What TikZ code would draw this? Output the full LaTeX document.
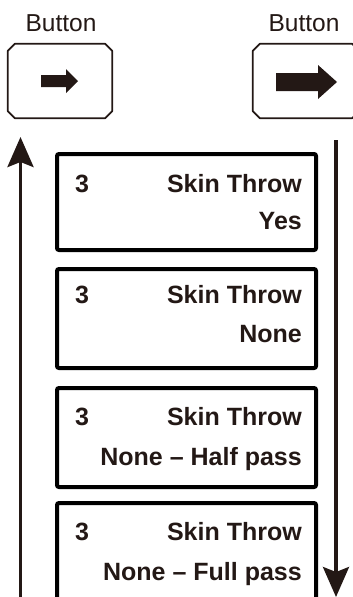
\documentclass[tikz,border=0pt]{standalone}
\usepackage{fontspec}
\setmainfont{Liberation Sans}
\usetikzlibrary{arrows.meta}
\definecolor{ink}{HTML}{231815}
\begin{document}
\begin{tikzpicture}[x=1pt,y=1pt,
  btnlabel/.style={font=\fontsize{24.5}{28}\selectfont, text=ink, inner sep=0pt, anchor=base},
  btnarea/.style={draw=none, inner sep=0pt, minimum width=#1, minimum height=74pt},
  btnframe/.style={draw=ink, line width=1.8pt, line join=round},
  btnicon/.style={fill=ink, draw=none},
  itembox/.style={draw=black, line width=4pt, rounded corners=2pt, inner sep=0pt,
    minimum width=259pt, minimum height=#1, anchor=north west},
  itemtext/.style={font=\bfseries\fontsize{25}{28}\selectfont, text=ink, inner sep=0pt},
  flow/.style={draw=ink, line width=3.5pt, -{Stealth[length=30pt,width=26pt,inset=5pt]}}
]
\useasboundingbox (0,0) rectangle (353,-597);
\clip (0,0) rectangle (353,-597);

% Button labels
\node[btnlabel] (lbl1) at (61,-31) {Button};
\node[btnlabel] (lbl2) at (304,-31) {Button};

% Left button
\node[btnarea=104pt] (lbtn) at (60,-81) {};
\draw[btnframe] ([xshift=7pt]lbtn.north west) -- ([xshift=-7pt]lbtn.north east)
  -- ([yshift=-7pt]lbtn.north east) -- ([yshift=7pt]lbtn.south east)
  -- ([xshift=-7pt]lbtn.south east) -- ([xshift=7pt]lbtn.south west)
  -- ([yshift=7pt]lbtn.south west) -- ([yshift=-7pt]lbtn.north west) -- cycle;
\fill[btnicon] (41,-75) -- (66,-75) -- (66,-69) -- (78,-81) -- (66,-93) -- (66,-87) -- (41,-87) -- cycle;

% Right button (cut by the right edge)
\node[btnarea=106pt] (rbtn) at (306,-81) {};
\draw[btnframe] ([xshift=7pt]rbtn.north west) -- ([xshift=-7pt]rbtn.north east)
  -- ([yshift=-7pt]rbtn.north east) -- ([yshift=7pt]rbtn.south east)
  -- ([xshift=-7pt]rbtn.south east) -- ([xshift=7pt]rbtn.south west)
  -- ([yshift=7pt]rbtn.south west) -- ([yshift=-7pt]rbtn.north west) -- cycle;
\fill[btnicon] (276,-73) -- (318,-73) -- (318,-65) -- (337,-82) -- (318,-99) -- (318,-91) -- (276,-91) -- cycle;

% Item boxes
\node[itembox=96pt]  (b1) at (55,-152) {};
\node[itembox=99pt]  (b2) at (55,-267) {};
\node[itembox=99pt]  (b3) at (55,-386) {};
\node[itembox=110pt] (b4) at (55,-501) {};

\node[itemtext, anchor=base west] (b1n) at (75,-192) {3};
\node[itemtext, anchor=base east] (b1a) at (302,-192) {Skin Throw};
\node[itemtext, anchor=base east] (b1b) at (302,-229) {Yes};

\node[itemtext, anchor=base west] (b2n) at (75,-303) {3};
\node[itemtext, anchor=base east] (b2a) at (302,-303) {Skin Throw};
\node[itemtext, anchor=base east] (b2b) at (302,-342) {None};

\node[itemtext, anchor=base west] (b3n) at (75,-425) {3};
\node[itemtext, anchor=base east] (b3a) at (302,-425) {Skin Throw};
\node[itemtext, anchor=base east] (b3b) at (302,-465) {None – Half pass};

\node[itemtext, anchor=base west] (b4n) at (75,-540) {3};
\node[itemtext, anchor=base east] (b4a) at (302,-540) {Skin Throw};
\node[itemtext, anchor=base east] (b4b) at (302,-580) {None – Full pass};

% Vertical flow arrows
\coordinate (lbot) at (20.5,-605);
\coordinate (ltop) at (20.5,-137);
\coordinate (rtop) at (336,-140);
\coordinate (rbot) at (336,-597);
\draw[flow] (lbot) -- (ltop);
\draw[flow] (rtop) -- (rbot);
\end{tikzpicture}
\end{document}
